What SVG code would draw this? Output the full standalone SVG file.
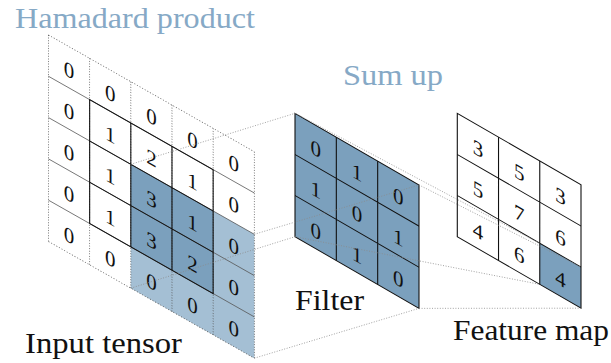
<svg xmlns="http://www.w3.org/2000/svg" width="611" height="363" viewBox="0 0 611 363">
  <style>
    text { font-family: "Times New Roman", Times, "Liberation Serif", "DejaVu Serif", "Noto Serif", serif; }
    .num { font-size: 21px; text-anchor: middle; fill: #111; }
    .label { font-size: 30px; fill: #111; }
    .title { font-size: 30px; fill: #86a9c6; }
    .dark { fill: #7ba0bd; }
    .light { fill: #a4bfd4; }
    .dot { fill: none; stroke: #555; stroke-width: 0.8; stroke-dasharray: 1 1.6; }
    .thin { fill: none; stroke: #555; stroke-width: 0.7; }
    .solid { fill: none; stroke: #111; stroke-width: 1.1; }
    .link { fill: none; stroke: #8a8a8a; stroke-width: 0.8; stroke-dasharray: 1 1.6; }
  </style>

  <!-- Input tensor: 5x5 padded grid, drawn in a slanted frame -->
  <g id="input" transform="matrix(1,0.567,0,1,48.5,35)">
    <!-- receptive field -->
    <rect class="light" x="82.32" y="82.6" width="123.48" height="123.9"/>
    <rect class="dark" x="82.32" y="82.6" width="82.32" height="82.6"/>
    <!-- padding grid -->
    <path class="thin" d="M0,41.3H205.8M0,82.6H205.8M0,123.9H205.8M0,165.2H205.8"/>
    <path class="dot" d="M0,0H205.8M0,206.5H205.8M0,0V206.5M41.16,0V206.5M82.32,0V206.5M123.48,0V206.5M164.64,0V206.5M205.8,0V206.5"/>
    <!-- inner 3x3 values -->
    <rect class="solid" x="41.16" y="41.3" width="123.48" height="123.9"/>
    <path class="solid" d="M82.32,41.3V165.2M123.48,41.3V165.2M41.16,82.6H164.64M41.16,123.9H164.64"/>
    <g class="num">
      <text x="20.58" y="30.5">0</text><text x="61.74" y="30.5">0</text><text x="102.9" y="30.5">0</text><text x="144.06" y="30.5">0</text><text x="185.22" y="30.5">0</text>
      <text x="20.58" y="71.8">0</text><text x="61.74" y="71.8">1</text><text x="102.9" y="71.8">2</text><text x="144.06" y="71.8">1</text><text x="185.22" y="71.8">0</text>
      <text x="20.58" y="113.1">0</text><text x="61.74" y="113.1">1</text><text x="102.9" y="113.1">3</text><text x="144.06" y="113.1">1</text><text x="185.22" y="113.1">0</text>
      <text x="20.58" y="154.4">0</text><text x="61.74" y="154.4">1</text><text x="102.9" y="154.4">3</text><text x="144.06" y="154.4">2</text><text x="185.22" y="154.4">0</text>
      <text x="20.58" y="195.7">0</text><text x="61.74" y="195.7">0</text><text x="102.9" y="195.7">0</text><text x="144.06" y="195.7">0</text><text x="185.22" y="195.7">0</text>
    </g>
  </g>

  <!-- Filter: 3x3 kernel -->
  <g id="filter" transform="matrix(1,0.578,0,1,295,113.3)">
    <rect class="dark" x="0" y="0" width="124" height="123.4"/>
    <rect class="solid" x="0" y="0" width="124" height="123.4"/>
    <path class="solid" d="M41.33,0V123.4M82.67,0V123.4M0,41.13H124M0,82.27H124"/>
    <g class="num">
      <text x="20.67" y="30.5">0</text><text x="62" y="30.5">1</text><text x="103.33" y="30.5">0</text>
      <text x="20.67" y="71.6">1</text><text x="62" y="71.6">0</text><text x="103.33" y="71.6">1</text>
      <text x="20.67" y="112.8">0</text><text x="62" y="112.8">1</text><text x="103.33" y="112.8">0</text>
    </g>
  </g>

  <!-- Feature map: 3x3 output -->
  <g id="feature-map" transform="matrix(1,0.578,0,1,457.3,113.3)">
    <rect fill="#fff" x="0" y="0" width="123.7" height="123.4"/>
    <rect class="dark" x="82.46" y="82.27" width="41.24" height="41.13"/>
    <rect class="solid" x="0" y="0" width="123.7" height="123.4"/>
    <path class="solid" d="M41.23,0V123.4M82.46,0V123.4M0,41.13H123.7M0,82.27H123.7"/>
    <g class="num">
      <text x="20.6" y="30.5">3</text><text x="61.85" y="30.5">5</text><text x="103.1" y="30.5">3</text>
      <text x="20.6" y="71.6">5</text><text x="61.85" y="71.6">7</text><text x="103.1" y="71.6">6</text>
      <text x="20.6" y="112.8">4</text><text x="61.85" y="112.8">6</text><text x="103.1" y="112.8">4</text>
    </g>
  </g>

  <!-- Projection lines: receptive field to filter, filter to output cell -->
  <g id="connectors" class="link">
    <line x1="130.82" y1="164.28" x2="295" y2="113.3"/>
    <line x1="254.3" y1="234.29" x2="419" y2="184.97"/>
    <line x1="130.82" y1="288.18" x2="295" y2="236.7"/>
    <line x1="254.3" y1="358.19" x2="419" y2="308.37"/>
    <line x1="295" y1="113.3" x2="539.76" y2="243.22"/>
    <line x1="419" y1="184.97" x2="580.99" y2="267.05"/>
    <line x1="295" y1="236.7" x2="539.76" y2="284.35"/>
    <line x1="419" y1="308.37" x2="580.99" y2="308.18"/>
  </g>

  <!-- Captions -->
  <text id="title-hadamard" class="title" x="15" y="28.3" textLength="240" lengthAdjust="spacingAndGlyphs">Hamadard product</text>
  <text id="title-sum" class="title" x="343" y="85" textLength="100" lengthAdjust="spacingAndGlyphs">Sum up</text>
  <text id="label-input" class="label" x="25" y="353" textLength="157" lengthAdjust="spacingAndGlyphs">Input tensor</text>
  <text id="label-filter" class="label" x="295" y="310" textLength="69" lengthAdjust="spacingAndGlyphs">Filter</text>
  <text id="label-feature" class="label" x="453" y="340" textLength="156" lengthAdjust="spacingAndGlyphs">Feature map</text>
</svg>
